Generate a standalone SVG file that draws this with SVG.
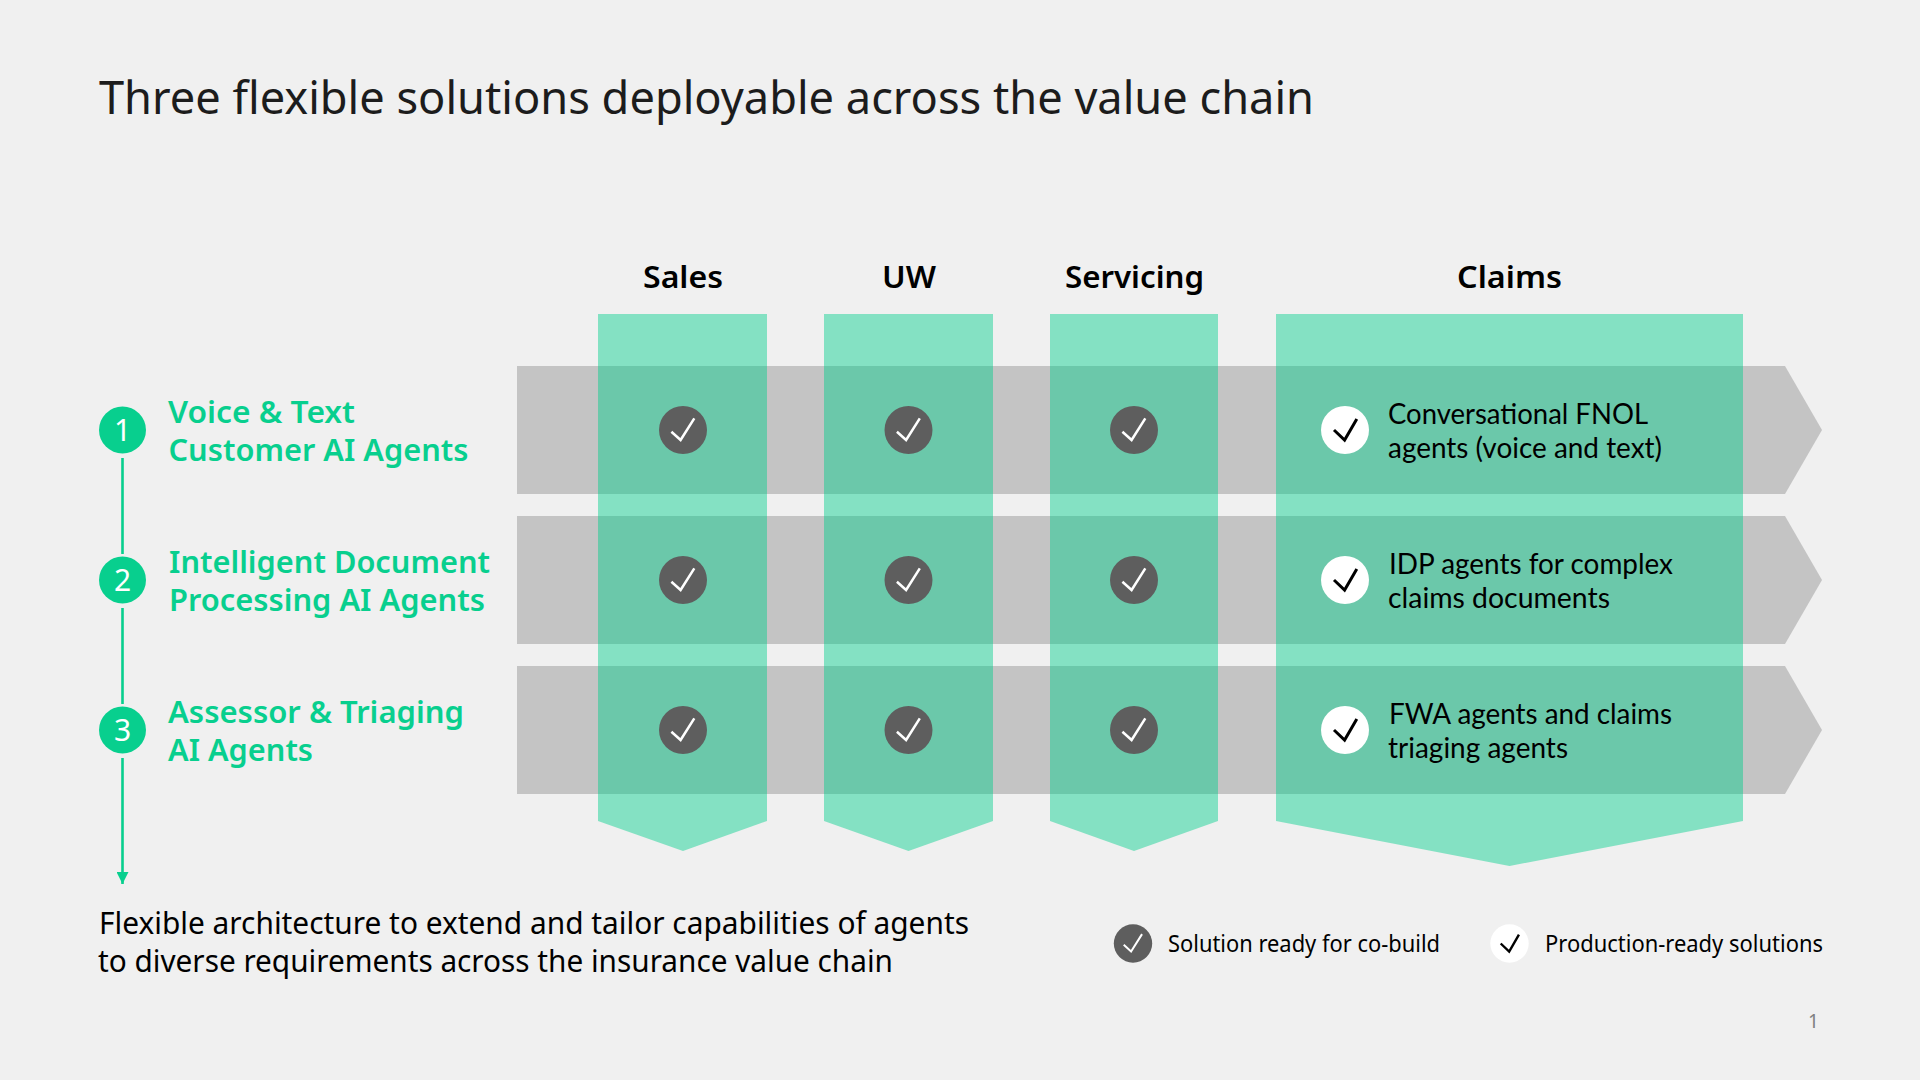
<svg xmlns="http://www.w3.org/2000/svg" width="1920" height="1080" viewBox="0 0 1920 1080">
<style>
text{font-family:"Noto Sans","Liberation Sans",sans-serif;fill:#000}
.title{font-size:46px;fill:#1c1c1c}
.head{font-size:30px;font-weight:600;text-anchor:middle}
.row{font-size:31px;font-weight:600;fill:#08cf8e}
.num{font-size:30px;fill:#fff;text-anchor:middle}
.desc{font-family:Lato,"Noto Sans",sans-serif;font-size:28px}
.foot{font-size:31px}
.leg{font-size:23px}
.page{font-size:19px;fill:#808080}
.bar{fill:#c4c4c4}
.col{fill:#00cf8c;fill-opacity:.45}
.line{stroke:#08cf8e;stroke-width:2.6;fill:none}
.dot{fill:#08cf8e}
</style>
<defs>
<marker id="ah" markerUnits="userSpaceOnUse" markerWidth="12" markerHeight="12" refX="12" refY="6" orient="auto" viewBox="0 0 12 12"><path d="M0 0L12 6L0 12Z" fill="#08cf8e"/></marker>
<g id="dark"><circle r="24" fill="#5e5e5e"/><path d="M-11.600 1.700L-2.400 10L11.300-11.700" fill="none" stroke="#fff" stroke-width="2.500"/></g>
<g id="light"><circle r="24" fill="#fff"/><path d="M-11 0L-.4 10L11.800-11" fill="none" stroke="#000" stroke-width="3"/></g>
</defs>
<rect width="1920" height="1080" fill="#f0f0f0"/>
<text class="title" x="99" y="114" textLength="1215" lengthAdjust="spacingAndGlyphs">Three flexible solutions deployable across the value chain</text>
<g id="bars">
<path id="bar1" class="bar" d="M517 366H1785L1822 430L1785 494H517Z"/>
<path id="bar2" class="bar" d="M517 516H1785L1822 580L1785 644H517Z"/>
<path id="bar3" class="bar" d="M517 666H1785L1822 730L1785 794H517Z"/>
</g>
<g id="columns">
<g id="col-sales"><path class="col" d="M598 314H767V821L683 851L598 821Z"/><text class="head" x="683" y="288" textLength="80" lengthAdjust="spacingAndGlyphs">Sales</text></g>
<g id="col-uw"><path class="col" d="M824 314H993V821L908.500 851L824 821Z"/><text class="head" x="909" y="288" textLength="54" lengthAdjust="spacingAndGlyphs">UW</text></g>
<g id="col-servicing"><path class="col" d="M1050 314H1218V821L1134 851L1050 821Z"/><text class="head" x="1134.500" y="288" textLength="139" lengthAdjust="spacingAndGlyphs">Servicing</text></g>
<g id="col-claims"><path class="col" d="M1276 314H1743V821L1509.500 866L1276 821Z"/><text class="head" x="1509.500" y="288" textLength="105" lengthAdjust="spacingAndGlyphs">Claims</text></g>
</g>
<g id="connectors">
<path class="line" d="M122.500 458V554"/>
<path class="line" d="M122.500 608V704"/>
<path class="line" d="M122.500 758V884" marker-end="url(#ah)"/>
</g>
<g id="row1">
<circle class="dot" cx="122.500" cy="430" r="23.500"/><text class="num" x="122.500" y="441">1</text>
<text class="row" x="168" y="423" textLength="187" lengthAdjust="spacingAndGlyphs">Voice &amp; Text</text>
<text class="row" x="168.500" y="461" textLength="300" lengthAdjust="spacingAndGlyphs">Customer AI Agents</text>
<use href="#dark" x="683" y="430"/><use href="#dark" x="908.500" y="430"/><use href="#dark" x="1134" y="430"/><use href="#light" x="1345" y="430"/>
<text class="desc" x="1388" y="424" textLength="260" lengthAdjust="spacingAndGlyphs">Conversational FNOL</text>
<text class="desc" x="1388" y="458" textLength="274" lengthAdjust="spacingAndGlyphs">agents (voice and text)</text>
</g>
<g id="row2">
<circle class="dot" cx="122.500" cy="580" r="23.500"/><text class="num" x="122.500" y="591">2</text>
<text class="row" x="169" y="573" textLength="321" lengthAdjust="spacingAndGlyphs">Intelligent Document</text>
<text class="row" x="169" y="611" textLength="316" lengthAdjust="spacingAndGlyphs">Processing AI Agents</text>
<use href="#dark" x="683" y="580"/><use href="#dark" x="908.500" y="580"/><use href="#dark" x="1134" y="580"/><use href="#light" x="1345" y="580"/>
<text class="desc" x="1389" y="574" textLength="284" lengthAdjust="spacingAndGlyphs">IDP agents for complex</text>
<text class="desc" x="1388" y="608" textLength="222" lengthAdjust="spacingAndGlyphs">claims documents</text>
</g>
<g id="row3">
<circle class="dot" cx="122.500" cy="730" r="23.500"/><text class="num" x="122.500" y="741">3</text>
<text class="row" x="168" y="723" textLength="296" lengthAdjust="spacingAndGlyphs">Assessor &amp; Triaging</text>
<text class="row" x="168" y="761" textLength="145" lengthAdjust="spacingAndGlyphs">AI Agents</text>
<use href="#dark" x="683" y="730"/><use href="#dark" x="908.500" y="730"/><use href="#dark" x="1134" y="730"/><use href="#light" x="1345" y="730"/>
<text class="desc" x="1389" y="724" textLength="283" lengthAdjust="spacingAndGlyphs">FWA agents and claims</text>
<text class="desc" x="1388" y="758" textLength="180" lengthAdjust="spacingAndGlyphs">triaging agents</text>
</g>
<g id="footer">
<text class="foot" x="99" y="934" textLength="870" lengthAdjust="spacingAndGlyphs">Flexible architecture to extend and tailor capabilities of agents</text>
<text class="foot" x="98" y="972" textLength="795" lengthAdjust="spacingAndGlyphs">to diverse requirements across the insurance value chain</text>
</g>
<g id="legend">
<use href="#dark" transform="translate(1133 943.500) scale(.8)"/>
<text class="leg" x="1168" y="952" textLength="272" lengthAdjust="spacingAndGlyphs">Solution ready for co-build</text>
<use href="#light" transform="translate(1509.500 943.500) scale(.8)"/>
<text class="leg" x="1545" y="952" textLength="278" lengthAdjust="spacingAndGlyphs">Production-ready solutions</text>
</g>
<text class="page" x="1808" y="1028">1</text>
</svg>
